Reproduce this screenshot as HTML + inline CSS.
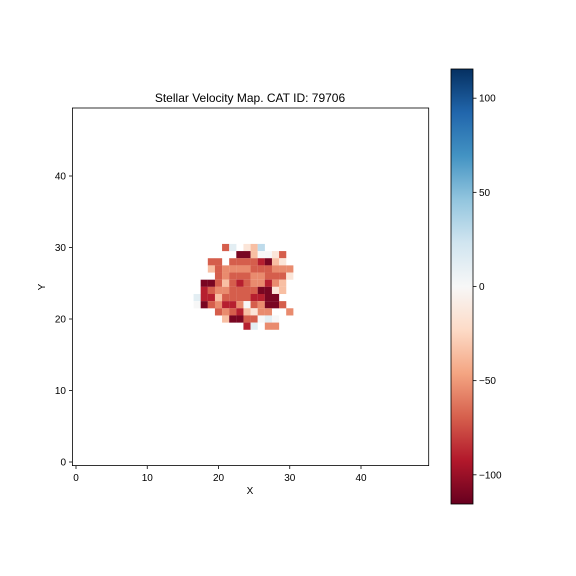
<!DOCTYPE html>
<html><head><meta charset="utf-8">
<style>
html,body{margin:0;padding:0;background:#fff;}
svg{display:block;font-family:"Liberation Sans","DejaVu Sans",sans-serif;}
</style></head>
<body>
<svg id="chart" width="576" height="576" viewBox="0 0 576 576">
  <defs>
    <linearGradient id="cmap" x1="0" y1="1" x2="0" y2="0">
      <stop offset="0" stop-color="#67001f"/><stop offset="0.1" stop-color="#b2182b"/>
      <stop offset="0.2" stop-color="#d6604d"/><stop offset="0.3" stop-color="#f4a582"/>
      <stop offset="0.4" stop-color="#fddbc7"/><stop offset="0.5" stop-color="#f7f7f7"/>
      <stop offset="0.6" stop-color="#d1e5f0"/><stop offset="0.7" stop-color="#92c5de"/>
      <stop offset="0.8" stop-color="#4393c3"/><stop offset="0.9" stop-color="#2166ac"/>
      <stop offset="1" stop-color="#053061"/>
    </linearGradient>
  </defs>
  <text x="250" y="102" font-size="12" text-anchor="middle">Stellar Velocity Map. CAT ID: 79706</text>
  <g id="cells"></g>
  <rect x="72.4" y="108" width="356.3" height="357.6" fill="none" stroke="#000" stroke-width="0.8"/>
  <g id="axes"></g>
  <text x="250" y="494" font-size="10" text-anchor="middle">X</text>
  <text x="45" y="287" font-size="10" text-anchor="middle" transform="rotate(-90 45 287)">Y</text>
  <rect x="451" y="69" width="22" height="435" fill="url(#cmap)" stroke="#000" stroke-width="0.8"/>
  <g id="cbticks"></g>
</svg>
<script>
const xTicks = [0, 10, 20, 30, 40];
const yTicks = [0, 10, 20, 30, 40];
const cbTicks = [-100, -50, 0, 50, 100];
const vMin = -115.5, vMax = 115.5;
// rows of cells: [y, startX, values...] (null = empty)
const D=-110,R=-90,M=-70,S=-55,P=-35,L=-15,W=0,B=12,BB=30,_=null;
const rowY = [30,29,28,27,26,25,24,23,22,21,20,19];
const rowStart = [21,23,19,19,20,18,18,17,17,20,21,24];
const rowVals = [
  [M,B,_,L,P,BB],
  [D,D,P,W,W,L,M],
  [M,M,_,M,M,M,M,R,D,P,L],
  [P,M,S,S,S,S,M,M,M,S,S,S],
  [M,S,M,M,M,S,S,M,M,M,L],
  [D,D,M,P,M,R,M,S,S,R,S,P],
  [R,M,S,S,M,M,M,M,D,D,L,P],
  [B,R,R,P,M,M,M,M,R,R,D,D],
  [W,D,M,S,R,R,S,W,M,S,D,D,M],
  [M,S,M,R,P,L,S,S,_,_,S],
  [P,D,D,M,M,W,B,W],
  [R,B,_,S,S]
];
const NS="http://www.w3.org/2000/svg";
const xS = v => 76 + v*7.125;
const yS = v => 462 - v*7.15;
const cbY = v => 504 - (v - vMin)/(vMax - vMin)*435;
const stops=["#67001f","#b2182b","#d6604d","#f4a582","#fddbc7","#f7f7f7","#d1e5f0","#92c5de","#4393c3","#2166ac","#053061"];
function hex(h){return [1,3,5].map(i=>parseInt(h.substr(i,2),16));}
function color(v){
  let t=(v-vMin)/(vMax-vMin); t=Math.max(0,Math.min(1,t));
  let p=t*10, i=Math.min(9,Math.floor(p)), f=p-i;
  const a=hex(stops[i]), b=hex(stops[i+1]);
  return "rgb("+a.map((c,k)=>Math.round(c+(b[k]-c)*f)).join(",")+")";
}
const cells=document.getElementById("cells");
rowY.forEach((y,ri)=>{
  rowVals[ri].forEach((v,ci)=>{
    if(v===null) return;
    const x=rowStart[ri]+ci;
    const r=document.createElementNS(NS,"rect");
    r.setAttribute("x",xS(x-0.5)); r.setAttribute("y",yS(y+0.5));
    r.setAttribute("width",7.2); r.setAttribute("height",7.2);
    r.setAttribute("fill",color(v));
    
    
    cells.appendChild(r);
  });
});
const axes=document.getElementById("axes");
function add(tag,attrs,txt){const e=document.createElementNS(NS,tag);for(const k in attrs)e.setAttribute(k,attrs[k]);if(txt!==undefined)e.textContent=txt;return e;}
xTicks.forEach(t=>{
  const l=add("line",{x1:xS(t),x2:xS(t),y1:465.6,y2:469,stroke:"#000","stroke-width":0.8});
  
  
  axes.appendChild(l);
  const tx=add("text",{x:xS(t),y:481,"font-size":10,"text-anchor":"middle"},t);
  
  
  axes.appendChild(tx);
});
yTicks.forEach(t=>{
  const l=add("line",{x1:69,x2:72.4,y1:yS(t),y2:yS(t),stroke:"#000","stroke-width":0.8});
  
  
  axes.appendChild(l);
  const tx=add("text",{x:66,y:yS(t)+3.5,"font-size":10,"text-anchor":"end"},t);
  
  
  axes.appendChild(tx);
});
const cbt=document.getElementById("cbticks");
cbTicks.forEach(t=>{
  const l=add("line",{x1:473,x2:476.5,y1:cbY(t),y2:cbY(t),stroke:"#000","stroke-width":0.8});
  
  
  cbt.appendChild(l);
  const tx=add("text",{x:479,y:cbY(t)+3.5,"font-size":10},t<0?"\u2212"+(-t):t);
  
  
  cbt.appendChild(tx);
});
</script>
</body></html>
